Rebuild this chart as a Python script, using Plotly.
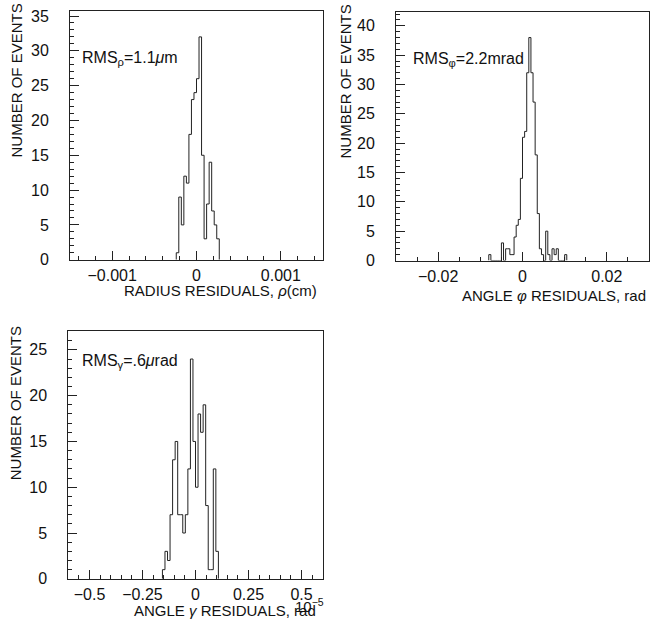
import plotly.graph_objects as go

# ---------------- data ----------------
# Panel 1: radius residuals (cm)
rho_start = -0.00024
rho_width = 0.00003
rho_counts = [1, 9, 5, 12, 11, 18, 23, 24, 26, 32, 15, 3, 8, 14, 7, 5, 3]

# Panel 2: angle phi residuals (rad)
phi_start = -0.008
phi_width = 0.0005
phi_counts = [1, 0, 0, 0, 0, 0, 3, 0, 2, 2, 1, 1, 4, 6, 7, 14, 21, 22, 32, 38,
              32, 27, 18, 8, 2, 1, 0, 5, 1, 0, 2, 1, 2, 0, 0, 0, 1]

# Panel 3: angle gamma residuals (1e-5 rad)
gam_start = -0.156
gam_width = 0.012
gam_counts = [1, 3, 2, 7, 13, 15, 7, 7, 5, 7, 12, 24, 15, 10, 18, 16, 19, 8, 1, 1, 12, 3]

rho_ticks = [-0.001, 0, 0.001]
rho_ticktext = ["\u22120.001", "0", "0.001"]
phi_ticks = [-0.02, 0, 0.02]
phi_ticktext = ["\u22120.02", "0", "0.02"]
gam_ticks = [-0.5, -0.25, 0, 0.25, 0.5]
gam_ticktext = ["\u22120.5", "\u22120.25", "0", "0.25", "0.5"]

rho_range = [-0.0015, 0.0015]
phi_range = [-0.03, 0.03]
gam_range = [-0.6, 0.6]
rho_ymax = 35.7
phi_ymax = 42.3
gam_ymax = 27.1

FONT = "Liberation Sans, Arial, Helvetica, sans-serif"
W, H = 652, 630


def step_xy(start, width, counts):
    edges = [start + i * width for i in range(len(counts) + 1)]
    xs = [edges[0]] + edges
    ys = [0] + list(counts) + [0]
    return xs, ys


fig = go.Figure()

panels = [
    (rho_start, rho_width, rho_counts, "x", "y"),
    (phi_start, phi_width, phi_counts, "x2", "y2"),
    (gam_start, gam_width, gam_counts, "x3", "y3"),
]
for s, w, c, xa, ya in panels:
    xs, ys = step_xy(s, w, c)
    fig.add_trace(go.Scatter(x=xs, y=ys, mode="lines", line=dict(color="#222", width=1, shape="hv"),
                             xaxis=xa, yaxis=ya, showlegend=False, hoverinfo="skip"))


def px_x(p):
    return p / W


def px_y(p):
    return 1 - p / H


def xaxis(dom, rng, tv, tt, minor_dt, anchor):
    return dict(domain=dom, range=rng, anchor=anchor, showline=True, linecolor="#222", linewidth=1,
                mirror=True, ticks="inside", ticklen=9, tickcolor="#222", tickwidth=1,
                tickvals=tv, ticktext=tt, showgrid=False, zeroline=False,
                tickfont=dict(family=FONT, size=16, color="#111"), ticklabelstandoff=1,
                minor=dict(ticks="inside", ticklen=4, dtick=minor_dt, tick0=0, tickcolor="#222", showgrid=False))


def yaxis(dom, ymax, anchor):
    return dict(domain=dom, range=[0, ymax], anchor=anchor, showline=True, linecolor="#222", linewidth=1,
                mirror=True, ticks="inside", ticklen=9, tickcolor="#222", tickwidth=1,
                dtick=5, tick0=0, showgrid=False, zeroline=False,
                tickfont=dict(family=FONT, size=16, color="#111"), ticklabelstandoff=17,
                minor=dict(ticks="inside", ticklen=4, dtick=1, tick0=0, tickcolor="#222", showgrid=False))


fig.update_layout(
    width=W, height=H, autosize=False,
    margin=dict(l=0, r=0, t=0, b=0),
    paper_bgcolor="white", plot_bgcolor="white",
    font=dict(family=FONT, color="#111"),
    xaxis=xaxis([px_x(70), px_x(323)], rho_range, rho_ticks, rho_ticktext, 0.0002, "y"),
    yaxis=yaxis([px_y(261.7), px_y(8.3)], rho_ymax, "x"),
    xaxis2=xaxis([px_x(396), px_x(649)], phi_range, phi_ticks, phi_ticktext, 0.005, "y2"),
    yaxis2=yaxis([px_y(262.5), px_y(9.5)], phi_ymax, "x2"),
    xaxis3=xaxis([px_x(68.3), px_x(322.7)], gam_range, gam_ticks, gam_ticktext, 0.05, "y3"),
    yaxis3=yaxis([px_y(587), px_y(334)], gam_ymax, "x3"),
)

ann = []


def txt(text, x, y, size=15, xanchor="center", yanchor="middle", angle=0):
    ann.append(dict(text=text, x=px_x(x), y=px_y(y), xref="paper", yref="paper", showarrow=False,
                    xanchor=xanchor, yanchor=yanchor, textangle=angle,
                    font=dict(family=FONT, size=size, color="#111")))


# y titles
txt("NUMBER OF EVENTS", 16, 79, angle=-90)
txt("NUMBER OF EVENTS", 345, 80, angle=-90)
txt("NUMBER OF EVENTS", 15, 408, angle=-90)
# x titles
txt("RADIUS RESIDUALS, <i>\u03c1</i>(cm)", 319, 293, xanchor="right")
txt("ANGLE <i>\u03c6</i> RESIDUALS, rad", 648, 298, xanchor="right")
txt("ANGLE <i>\u03b3</i> RESIDUALS, rad", 318, 619, xanchor="right")
txt("10<sup>\u22125</sup>", 326, 614, xanchor="right")
# RMS labels
txt("RMS<sub>\u03c1</sub>=1.1<i>\u03bc</i>m", 80, 57, size=16, xanchor="left")
txt("RMS<sub>\u03c6</sub>=2.2mrad", 411, 58, size=16, xanchor="left")
txt("RMS<sub>\u03b3</sub>=.6<i>\u03bc</i>rad", 80, 365, size=16, xanchor="left")

fig.update_layout(annotations=ann)
fig.write_html("out.html", config={"displayModeBar": False},
               post_script="document.body.style.margin='0';document.body.style.overflow='hidden';")
